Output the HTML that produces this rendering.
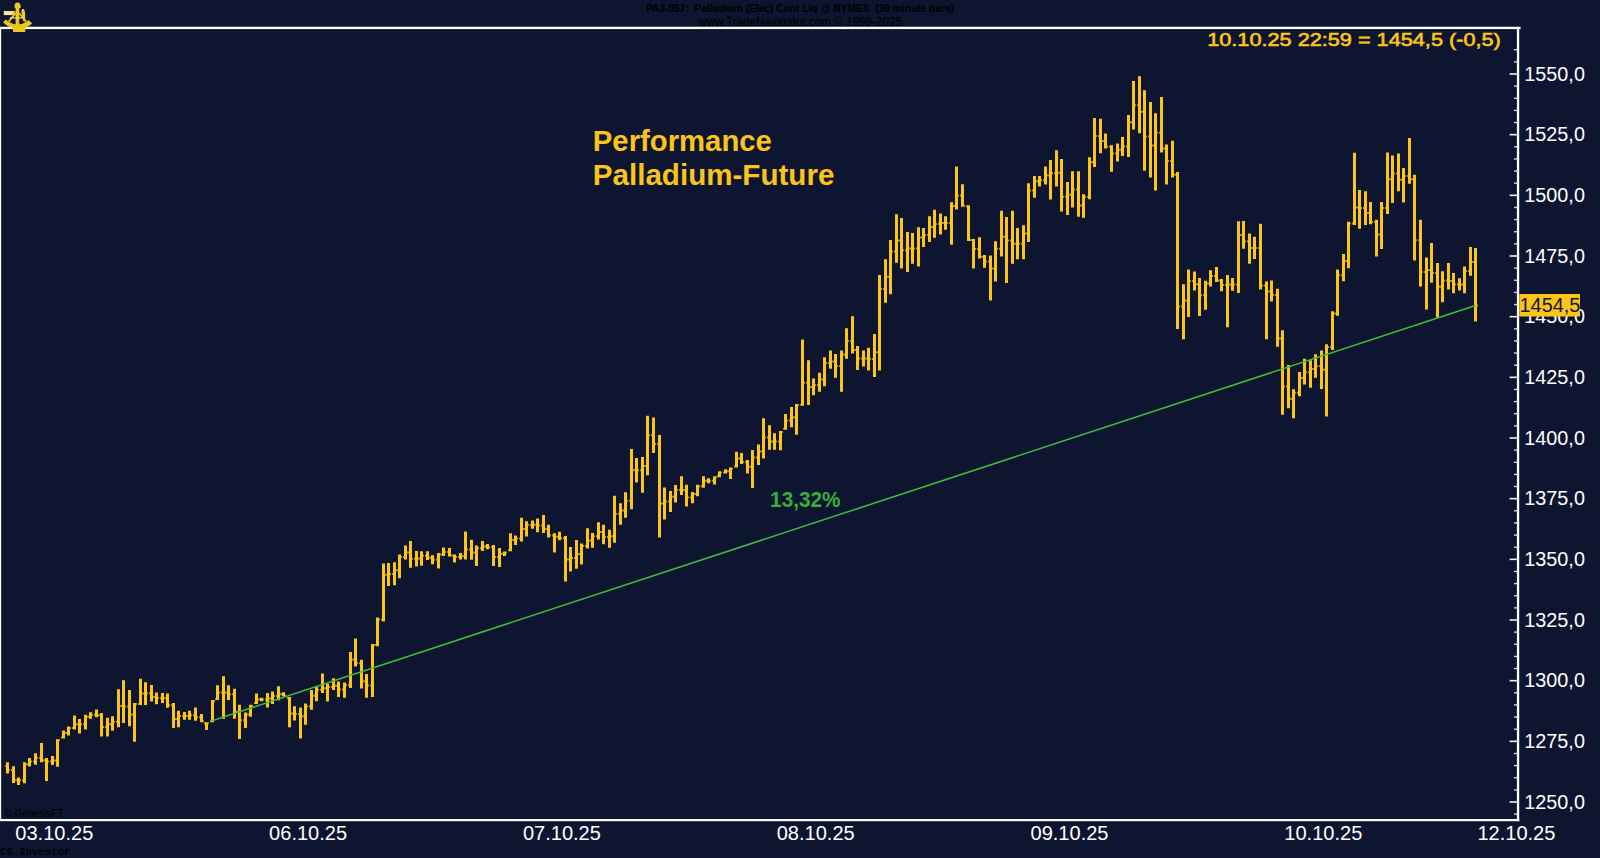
<!DOCTYPE html>
<html lang="de"><head><meta charset="utf-8"><title>Performance Palladium-Future</title>
<style>
html,body{margin:0;padding:0;background:#0d1530;overflow:hidden}
svg{display:block}
text{font-family:"Liberation Sans",Arial,sans-serif}
.ax text{font-size:20px;fill:#fff}
.mono{font-family:"Liberation Mono","Courier New",monospace}
</style></head><body>
<svg width="1600" height="858" viewBox="0 0 1600 858">
<rect width="1600" height="858" fill="#0d1530"/>
<!-- header -->
<g fill="#000">
<text x="800" y="12.3" font-size="10.5" font-weight="bold" text-anchor="middle" textLength="308" lengthAdjust="spacingAndGlyphs" xml:space="preserve">PA3-057:  Palladium (Elec) Cont Liq @ NYMEX  (30 minute bars)</text>
<text x="800" y="26" font-size="12" text-anchor="middle" textLength="204" lengthAdjust="spacingAndGlyphs">www.TradeNavigator.com © 1999-2025</text>
<text x="4.5" y="817" font-size="10">© GenesisFT</text>
<text class="mono" x="0" y="855" font-size="10.67" font-weight="bold" opacity="0.85">CS Investor</text>
</g>
<!-- frame -->
<g fill="#fff">
<rect x="0" y="26.75" width="1520.6" height="2.35"/>
<rect x="0" y="27" width="1.15" height="794"/>
<rect x="0" y="819" width="1519.2" height="2.2"/>
<rect x="1516.9" y="27" width="2.3" height="794.2"/>
</g>
<rect x="1514" y="813.44" width="3.5" height="1.4" fill="#d4d6da"/><rect x="1509.6" y="801.21" width="8" height="1.6" fill="#f0f0f2"/><rect x="1514" y="789.18" width="3.5" height="1.4" fill="#d4d6da"/><rect x="1514" y="777.04" width="3.5" height="1.4" fill="#d4d6da"/><rect x="1514" y="764.91" width="3.5" height="1.4" fill="#d4d6da"/><rect x="1514" y="752.78" width="3.5" height="1.4" fill="#d4d6da"/><rect x="1509.6" y="740.54" width="8" height="1.6" fill="#f0f0f2"/><rect x="1514" y="728.51" width="3.5" height="1.4" fill="#d4d6da"/><rect x="1514" y="716.38" width="3.5" height="1.4" fill="#d4d6da"/><rect x="1514" y="704.24" width="3.5" height="1.4" fill="#d4d6da"/><rect x="1514" y="692.11" width="3.5" height="1.4" fill="#d4d6da"/><rect x="1509.6" y="679.88" width="8" height="1.6" fill="#f0f0f2"/><rect x="1514" y="667.84" width="3.5" height="1.4" fill="#d4d6da"/><rect x="1514" y="655.71" width="3.5" height="1.4" fill="#d4d6da"/><rect x="1514" y="643.57" width="3.5" height="1.4" fill="#d4d6da"/><rect x="1514" y="631.44" width="3.5" height="1.4" fill="#d4d6da"/><rect x="1509.6" y="619.21" width="8" height="1.6" fill="#f0f0f2"/><rect x="1514" y="607.17" width="3.5" height="1.4" fill="#d4d6da"/><rect x="1514" y="595.04" width="3.5" height="1.4" fill="#d4d6da"/><rect x="1514" y="582.91" width="3.5" height="1.4" fill="#d4d6da"/><rect x="1514" y="570.77" width="3.5" height="1.4" fill="#d4d6da"/><rect x="1509.6" y="558.54" width="8" height="1.6" fill="#f0f0f2"/><rect x="1514" y="546.51" width="3.5" height="1.4" fill="#d4d6da"/><rect x="1514" y="534.37" width="3.5" height="1.4" fill="#d4d6da"/><rect x="1514" y="522.24" width="3.5" height="1.4" fill="#d4d6da"/><rect x="1514" y="510.11" width="3.5" height="1.4" fill="#d4d6da"/><rect x="1509.6" y="497.87" width="8" height="1.6" fill="#f0f0f2"/><rect x="1514" y="485.84" width="3.5" height="1.4" fill="#d4d6da"/><rect x="1514" y="473.71" width="3.5" height="1.4" fill="#d4d6da"/><rect x="1514" y="461.57" width="3.5" height="1.4" fill="#d4d6da"/><rect x="1514" y="449.44" width="3.5" height="1.4" fill="#d4d6da"/><rect x="1509.6" y="437.20" width="8" height="1.6" fill="#f0f0f2"/><rect x="1514" y="425.17" width="3.5" height="1.4" fill="#d4d6da"/><rect x="1514" y="413.04" width="3.5" height="1.4" fill="#d4d6da"/><rect x="1514" y="400.90" width="3.5" height="1.4" fill="#d4d6da"/><rect x="1514" y="388.77" width="3.5" height="1.4" fill="#d4d6da"/><rect x="1509.6" y="376.54" width="8" height="1.6" fill="#f0f0f2"/><rect x="1514" y="364.50" width="3.5" height="1.4" fill="#d4d6da"/><rect x="1514" y="352.37" width="3.5" height="1.4" fill="#d4d6da"/><rect x="1514" y="340.24" width="3.5" height="1.4" fill="#d4d6da"/><rect x="1514" y="328.10" width="3.5" height="1.4" fill="#d4d6da"/><rect x="1509.6" y="315.87" width="8" height="1.6" fill="#f0f0f2"/><rect x="1514" y="303.84" width="3.5" height="1.4" fill="#d4d6da"/><rect x="1514" y="291.70" width="3.5" height="1.4" fill="#d4d6da"/><rect x="1514" y="279.57" width="3.5" height="1.4" fill="#d4d6da"/><rect x="1514" y="267.44" width="3.5" height="1.4" fill="#d4d6da"/><rect x="1509.6" y="255.20" width="8" height="1.6" fill="#f0f0f2"/><rect x="1514" y="243.17" width="3.5" height="1.4" fill="#d4d6da"/><rect x="1514" y="231.04" width="3.5" height="1.4" fill="#d4d6da"/><rect x="1514" y="218.90" width="3.5" height="1.4" fill="#d4d6da"/><rect x="1514" y="206.77" width="3.5" height="1.4" fill="#d4d6da"/><rect x="1509.6" y="194.53" width="8" height="1.6" fill="#f0f0f2"/><rect x="1514" y="182.50" width="3.5" height="1.4" fill="#d4d6da"/><rect x="1514" y="170.37" width="3.5" height="1.4" fill="#d4d6da"/><rect x="1514" y="158.23" width="3.5" height="1.4" fill="#d4d6da"/><rect x="1514" y="146.10" width="3.5" height="1.4" fill="#d4d6da"/><rect x="1509.6" y="133.87" width="8" height="1.6" fill="#f0f0f2"/><rect x="1514" y="121.83" width="3.5" height="1.4" fill="#d4d6da"/><rect x="1514" y="109.70" width="3.5" height="1.4" fill="#d4d6da"/><rect x="1514" y="97.57" width="3.5" height="1.4" fill="#d4d6da"/><rect x="1514" y="85.43" width="3.5" height="1.4" fill="#d4d6da"/><rect x="1509.6" y="73.20" width="8" height="1.6" fill="#f0f0f2"/><rect x="1514" y="61.17" width="3.5" height="1.4" fill="#d4d6da"/><rect x="1514" y="49.03" width="3.5" height="1.4" fill="#d4d6da"/>
<g class="ax">
<text x="1524.3" y="808.7" textLength="60.6" lengthAdjust="spacingAndGlyphs">1250,0</text><text x="1524.3" y="748.0" textLength="60.6" lengthAdjust="spacingAndGlyphs">1275,0</text><text x="1524.3" y="687.4" textLength="60.6" lengthAdjust="spacingAndGlyphs">1300,0</text><text x="1524.3" y="626.7" textLength="60.6" lengthAdjust="spacingAndGlyphs">1325,0</text><text x="1524.3" y="566.0" textLength="60.6" lengthAdjust="spacingAndGlyphs">1350,0</text><text x="1524.3" y="505.4" textLength="60.6" lengthAdjust="spacingAndGlyphs">1375,0</text><text x="1524.3" y="444.7" textLength="60.6" lengthAdjust="spacingAndGlyphs">1400,0</text><text x="1524.3" y="384.0" textLength="60.6" lengthAdjust="spacingAndGlyphs">1425,0</text><text x="1524.3" y="323.4" textLength="60.6" lengthAdjust="spacingAndGlyphs">1450,0</text><text x="1524.3" y="262.7" textLength="60.6" lengthAdjust="spacingAndGlyphs">1475,0</text><text x="1524.3" y="202.0" textLength="60.6" lengthAdjust="spacingAndGlyphs">1500,0</text><text x="1524.3" y="141.4" textLength="60.6" lengthAdjust="spacingAndGlyphs">1525,0</text><text x="1524.3" y="80.7" textLength="60.6" lengthAdjust="spacingAndGlyphs">1550,0</text>
<text x="15.3" y="840" textLength="78" lengthAdjust="spacingAndGlyphs">03.10.25</text><text x="269.1" y="840" textLength="78" lengthAdjust="spacingAndGlyphs">06.10.25</text><text x="522.9" y="840" textLength="78" lengthAdjust="spacingAndGlyphs">07.10.25</text><text x="776.7" y="840" textLength="78" lengthAdjust="spacingAndGlyphs">08.10.25</text><text x="1030.5" y="840" textLength="78" lengthAdjust="spacingAndGlyphs">09.10.25</text><text x="1284.3" y="840" textLength="78" lengthAdjust="spacingAndGlyphs">10.10.25</text><text x="1477.4" y="840" textLength="78" lengthAdjust="spacingAndGlyphs">12.10.25</text>
</g>
<!-- trend line -->
<!-- bars -->
<path fill="#fdc616" d="M6 762.3h3V773.5h-3zM12 766.2h3V783.0h-3zM17 777.4h3V785.0h-3zM23 762.3h3V783.3h-3zM28 758.1h3V766.5h-3zM34 753.2h3V764.8h-3zM40 743.0h3V762.3h-3zM45 758.1h3V780.9h-3zM51 756.0h3V765.1h-3zM56 739.2h3V766.8h-3zM62 730.4h3V738.5h-3zM67 726.6h3V735.5h-3zM73 715.5h3V729.4h-3zM78 719.0h3V733.6h-3zM84 714.8h3V729.4h-3zM89 712.2h3V718.7h-3zM95 709.4h3V717.3h-3zM100 713.1h3V736.4h-3zM106 717.8h3V736.4h-3zM111 716.2h3V730.8h-3zM117 689.2h3V727.3h-3zM122 680.2h3V722.9h-3zM128 689.9h3V726.2h-3zM133 702.9h3V741.7h-3zM139 678.8h3V705.0h-3zM144 682.3h3V705.0h-3zM150 685.1h3V701.5h-3zM155 692.4h3V704.3h-3zM161 693.1h3V702.9h-3zM166 693.5h3V707.8h-3zM172 702.9h3V728.0h-3zM177 710.8h3V727.3h-3zM183 712.0h3V719.7h-3zM188 710.8h3V719.7h-3zM194 707.4h3V720.8h-3zM200 713.9h3V722.3h-3zM205 722.3h3V730.0h-3zM211 699.9h3V722.3h-3zM216 685.2h3V699.9h-3zM222 676.2h3V718.8h-3zM227 685.2h3V699.9h-3zM233 688.7h3V718.8h-3zM238 704.8h3V739.1h-3zM244 712.5h3V727.9h-3zM249 704.8h3V716.7h-3zM255 693.6h3V704.1h-3zM260 697.8h3V701.3h-3zM266 692.9h3V707.6h-3zM271 691.5h3V704.1h-3zM277 686.2h3V700.2h-3zM282 692.2h3V696.4h-3zM288 697.1h3V727.2h-3zM293 706.2h3V720.6h-3zM299 707.6h3V738.4h-3zM304 703.4h3V724.8h-3zM310 690.1h3V709.7h-3zM315 686.6h3V701.3h-3zM321 673.4h3V692.9h-3zM326 683.8h3V701.6h-3zM332 678.3h3V690.1h-3zM337 681.5h3V696.9h-3zM343 682.4h3V697.8h-3zM349 652.1h3V688.0h-3zM354 638.4h3V666.6h-3zM360 659.7h3V688.5h-3zM365 674.1h3V697.8h-3zM371 644.0h3V696.9h-3zM376 617.4h3V646.3h-3zM382 563.6h3V621.6h-3zM387 562.9h3V585.9h-3zM393 562.2h3V585.2h-3zM398 554.5h3V578.3h-3zM404 545.4h3V559.4h-3zM409 540.9h3V567.8h-3zM415 551.0h3V566.6h-3zM420 551.3h3V565.7h-3zM426 551.3h3V560.1h-3zM431 555.2h3V564.3h-3zM437 553.1h3V568.5h-3zM442 547.5h3V555.9h-3zM448 547.9h3V556.6h-3zM453 554.5h3V562.4h-3zM459 553.1h3V559.4h-3zM464 531.4h3V559.4h-3zM470 539.8h3V559.7h-3zM475 545.4h3V566.1h-3zM481 540.9h3V551.0h-3zM486 544.0h3V549.3h-3zM492 545.1h3V566.1h-3zM498 547.9h3V567.1h-3zM503 551.6h3V556.0h-3zM509 533.3h3V551.3h-3zM514 535.4h3V544.9h-3zM520 517.8h3V541.4h-3zM525 521.3h3V536.5h-3zM531 520.6h3V528.7h-3zM536 518.5h3V532.3h-3zM542 515.0h3V533.0h-3zM547 524.8h3V537.5h-3zM553 533.3h3V552.5h-3zM558 531.7h3V540.3h-3zM564 536.1h3V581.5h-3zM569 547.1h3V571.6h-3zM575 540.1h3V568.8h-3zM580 543.6h3V564.6h-3zM586 528.3h3V548.5h-3zM591 533.1h3V547.8h-3zM597 522.2h3V539.4h-3zM602 524.8h3V544.3h-3zM608 529.7h3V547.8h-3zM613 495.7h3V542.7h-3zM619 503.3h3V524.8h-3zM624 492.3h3V517.8h-3zM630 449.0h3V509.2h-3zM635 458.0h3V482.6h-3zM641 457.1h3V492.7h-3zM646 415.7h3V475.2h-3zM652 417.5h3V453.1h-3zM658 435.0h3V537.6h-3zM663 487.5h3V519.4h-3zM669 490.9h3V511.9h-3zM674 485.0h3V502.6h-3zM680 476.2h3V495.1h-3zM685 484.7h3V506.4h-3zM691 492.0h3V503.3h-3zM696 484.7h3V496.3h-3zM702 476.2h3V487.8h-3zM707 478.3h3V483.2h-3zM713 476.2h3V484.6h-3zM718 471.3h3V477.2h-3zM724 469.2h3V473.4h-3zM729 467.4h3V479.0h-3zM735 451.7h3V467.4h-3zM740 452.9h3V464.1h-3zM746 460.1h3V473.4h-3zM751 450.1h3V488.1h-3zM757 444.5h3V465.0h-3zM762 418.2h3V458.5h-3zM768 425.2h3V449.7h-3zM773 433.3h3V449.7h-3zM779 431.0h3V450.3h-3zM784 414.0h3V429.7h-3zM790 407.1h3V427.3h-3zM795 404.1h3V434.7h-3zM801 339.4h3V405.8h-3zM807 360.3h3V405.1h-3zM812 378.5h3V395.3h-3zM818 372.7h3V391.8h-3zM823 357.3h3V386.2h-3zM829 350.6h3V368.7h-3zM834 354.1h3V377.8h-3zM840 350.6h3V391.8h-3zM845 328.2h3V358.7h-3zM851 316.3h3V353.6h-3zM856 346.1h3V369.9h-3zM862 350.6h3V366.6h-3zM867 347.8h3V370.4h-3zM873 334.1h3V376.9h-3zM878 275.0h3V370.4h-3zM884 259.3h3V302.7h-3zM889 240.0h3V294.3h-3zM895 214.3h3V262.8h-3zM900 218.1h3V268.4h-3zM906 232.1h3V271.9h-3zM911 233.0h3V263.8h-3zM917 227.3h3V266.6h-3zM922 228.1h3V247.0h-3zM928 216.3h3V241.9h-3zM933 209.8h3V237.7h-3zM939 213.5h3V234.4h-3zM944 216.2h3V229.7h-3zM950 202.3h3V244.7h-3zM955 166.5h3V209.5h-3zM961 184.3h3V206.8h-3zM967 205.2h3V240.9h-3zM972 239.1h3V268.4h-3zM978 237.2h3V258.6h-3zM983 254.9h3V267.7h-3zM989 255.4h3V300.6h-3zM994 241.2h3V281.4h-3zM1000 210.8h3V256.5h-3zM1005 217.1h3V283.1h-3zM1011 210.8h3V263.8h-3zM1016 228.1h3V259.3h-3zM1022 225.2h3V259.3h-3zM1027 183.2h3V241.9h-3zM1033 176.0h3V197.7h-3zM1038 176.1h3V186.6h-3zM1044 166.6h3V184.5h-3zM1049 160.1h3V199.6h-3zM1055 150.3h3V186.6h-3zM1060 159.1h3V211.4h-3zM1066 182.0h3V215.0h-3zM1071 171.3h3V207.6h-3zM1077 171.3h3V216.7h-3zM1082 194.3h3V217.8h-3zM1088 157.3h3V199.2h-3zM1093 117.9h3V167.1h-3zM1099 118.8h3V153.3h-3zM1104 133.5h3V148.5h-3zM1110 145.2h3V171.7h-3zM1116 143.6h3V161.6h-3zM1121 137.1h3V155.9h-3zM1127 115.1h3V157.0h-3zM1132 81.1h3V129.6h-3zM1138 76.2h3V133.2h-3zM1143 90.2h3V170.7h-3zM1149 102.1h3V177.6h-3zM1154 113.3h3V190.4h-3zM1160 96.9h3V152.4h-3zM1165 144.4h3V184.5h-3zM1171 140.8h3V177.6h-3zM1176 172.0h3V329.0h-3zM1182 284.2h3V339.3h-3zM1187 269.5h3V317.0h-3zM1193 271.6h3V290.5h-3zM1198 277.9h3V316.1h-3zM1204 280.7h3V309.8h-3zM1209 270.2h3V286.6h-3zM1215 267.0h3V281.9h-3zM1220 279.1h3V291.2h-3zM1226 275.1h3V327.3h-3zM1231 277.9h3V290.8h-3zM1237 221.3h3V293.0h-3zM1242 220.9h3V248.8h-3zM1248 233.5h3V263.7h-3zM1253 236.7h3V259.1h-3zM1259 223.7h3V289.4h-3zM1265 281.4h3V339.3h-3zM1270 280.5h3V301.4h-3zM1276 288.8h3V346.7h-3zM1281 330.2h3V414.8h-3zM1287 365.1h3V408.2h-3zM1292 389.2h3V418.3h-3zM1298 371.9h3V396.2h-3zM1303 358.8h3V384.4h-3zM1309 360.2h3V387.8h-3zM1314 354.2h3V377.7h-3zM1320 350.5h3V388.9h-3zM1325 344.2h3V416.6h-3zM1331 311.2h3V350.0h-3zM1336 269.4h3V315.7h-3zM1342 254.1h3V281.2h-3zM1347 221.8h3V268.2h-3zM1353 152.7h3V224.9h-3zM1358 190.1h3V228.7h-3zM1364 191.3h3V224.9h-3zM1369 202.0h3V224.2h-3zM1375 219.8h3V256.4h-3zM1380 202.0h3V248.9h-3zM1386 152.4h3V214.0h-3zM1391 155.5h3V203.0h-3zM1397 153.5h3V191.3h-3zM1402 168.0h3V202.4h-3zM1408 138.1h3V183.8h-3zM1413 174.8h3V260.6h-3zM1419 219.8h3V286.6h-3zM1425 257.6h3V309.6h-3zM1430 242.9h3V282.7h-3zM1436 263.1h3V317.7h-3zM1441 271.3h3V302.3h-3zM1447 263.1h3V289.4h-3zM1452 272.9h3V293.2h-3zM1458 278.3h3V290.4h-3zM1463 266.6h3V293.2h-3zM1469 247.1h3V275.7h-3zM1474 248.0h3V321.6h-3z"/>
<path fill="#fdc616" opacity="0.7" d="M5 764.9h1v2h-1zM9 768.9h1v2h-1zM11 768.9h1v2h-1zM15 779.2h1v2h-1zM16 779.2h1v2h-1zM20 779.3h1v2h-1zM22 779.3h1v2h-1zM26 763.4h1v2h-1zM27 763.4h1v2h-1zM31 760.5h1v2h-1zM33 760.5h1v2h-1zM37 756.8h1v2h-1zM39 756.8h1v2h-1zM43 759.2h1v2h-1zM44 759.2h1v2h-1zM48 760.6h1v2h-1zM50 760.6h1v2h-1zM54 759.5h1v2h-1zM55 759.5h1v2h-1zM59 739.2h1v2h-1zM61 736.5h1v2h-1zM65 732.0h1v2h-1zM66 732.0h1v2h-1zM70 727.0h1v2h-1zM72 727.0h1v2h-1zM76 723.2h1v2h-1zM77 723.2h1v2h-1zM81 723.2h1v2h-1zM83 723.2h1v2h-1zM87 715.8h1v2h-1zM88 715.8h1v2h-1zM92 713.8h1v2h-1zM94 713.8h1v2h-1zM98 714.2h1v2h-1zM99 714.2h1v2h-1zM103 726.1h1v2h-1zM105 726.1h1v2h-1zM109 723.3h1v2h-1zM110 723.3h1v2h-1zM114 720.8h1v2h-1zM116 720.8h1v2h-1zM120 705.0h1v2h-1zM121 705.0h1v2h-1zM125 705.4h1v2h-1zM127 705.4h1v2h-1zM131 713.5h1v2h-1zM132 713.5h1v2h-1zM136 703.0h1v2h-1zM138 703.0h1v2h-1zM142 692.6h1v2h-1zM143 692.6h1v2h-1zM147 692.3h1v2h-1zM149 692.3h1v2h-1zM153 696.0h1v2h-1zM154 696.0h1v2h-1zM158 697.0h1v2h-1zM160 697.0h1v2h-1zM164 697.2h1v2h-1zM165 697.2h1v2h-1zM169 704.3h1v2h-1zM171 704.3h1v2h-1zM175 718.0h1v2h-1zM176 718.0h1v2h-1zM180 714.9h1v2h-1zM182 714.9h1v2h-1zM186 714.9h1v2h-1zM187 714.9h1v2h-1zM191 714.2h1v2h-1zM193 714.2h1v2h-1zM197 716.3h1v2h-1zM199 716.3h1v2h-1zM203 720.3h1v2h-1zM204 722.3h1v2h-1zM208 722.3h1v2h-1zM210 720.3h1v2h-1zM214 699.9h1v2h-1zM215 697.9h1v2h-1zM219 691.5h1v2h-1zM221 691.5h1v2h-1zM225 691.5h1v2h-1zM226 691.5h1v2h-1zM230 693.3h1v2h-1zM232 693.3h1v2h-1zM236 710.8h1v2h-1zM237 710.8h1v2h-1zM241 719.2h1v2h-1zM243 719.2h1v2h-1zM247 713.6h1v2h-1zM248 713.6h1v2h-1zM252 704.8h1v2h-1zM254 702.1h1v2h-1zM258 698.5h1v2h-1zM259 698.5h1v2h-1zM263 698.5h1v2h-1zM265 698.5h1v2h-1zM269 697.5h1v2h-1zM270 697.5h1v2h-1zM274 694.9h1v2h-1zM276 694.9h1v2h-1zM280 693.3h1v2h-1zM281 693.3h1v2h-1zM285 694.4h1v2h-1zM287 697.1h1v2h-1zM291 712.4h1v2h-1zM292 712.4h1v2h-1zM296 713.1h1v2h-1zM298 713.1h1v2h-1zM302 715.2h1v2h-1zM303 715.2h1v2h-1zM307 705.5h1v2h-1zM309 705.5h1v2h-1zM313 694.7h1v2h-1zM314 694.7h1v2h-1zM318 688.8h1v2h-1zM320 688.8h1v2h-1zM324 687.3h1v2h-1zM325 687.3h1v2h-1zM329 686.0h1v2h-1zM331 686.0h1v2h-1zM335 684.8h1v2h-1zM336 684.8h1v2h-1zM340 688.6h1v2h-1zM342 688.6h1v2h-1zM346 684.2h1v2h-1zM348 684.2h1v2h-1zM352 658.4h1v2h-1zM353 658.4h1v2h-1zM357 662.2h1v2h-1zM359 662.2h1v2h-1zM363 680.3h1v2h-1zM364 680.3h1v2h-1zM368 684.5h1v2h-1zM370 684.5h1v2h-1zM374 644.1h1v2h-1zM375 644.1h1v2h-1zM379 618.5h1v2h-1zM381 618.5h1v2h-1zM385 573.8h1v2h-1zM386 573.8h1v2h-1zM390 573.0h1v2h-1zM392 573.0h1v2h-1zM396 569.2h1v2h-1zM397 569.2h1v2h-1zM401 556.0h1v2h-1zM403 556.0h1v2h-1zM407 551.4h1v2h-1zM408 551.4h1v2h-1zM412 557.8h1v2h-1zM414 557.8h1v2h-1zM418 557.5h1v2h-1zM419 557.5h1v2h-1zM423 554.7h1v2h-1zM425 554.7h1v2h-1zM429 556.7h1v2h-1zM430 556.7h1v2h-1zM434 558.8h1v2h-1zM436 558.8h1v2h-1zM440 553.5h1v2h-1zM441 553.5h1v2h-1zM445 550.9h1v2h-1zM447 550.9h1v2h-1zM451 554.5h1v2h-1zM452 554.5h1v2h-1zM456 556.0h1v2h-1zM458 556.0h1v2h-1zM462 555.2h1v2h-1zM463 555.2h1v2h-1zM467 548.6h1v2h-1zM469 548.6h1v2h-1zM473 551.5h1v2h-1zM474 551.5h1v2h-1zM478 547.2h1v2h-1zM480 547.2h1v2h-1zM484 545.6h1v2h-1zM485 545.6h1v2h-1zM489 546.2h1v2h-1zM491 546.2h1v2h-1zM495 556.0h1v2h-1zM497 556.0h1v2h-1zM501 552.8h1v2h-1zM502 552.8h1v2h-1zM506 551.6h1v2h-1zM508 549.3h1v2h-1zM512 539.1h1v2h-1zM513 539.1h1v2h-1zM517 537.4h1v2h-1zM519 537.4h1v2h-1zM523 527.9h1v2h-1zM524 527.9h1v2h-1zM528 524.0h1v2h-1zM530 524.0h1v2h-1zM534 523.7h1v2h-1zM535 523.7h1v2h-1zM539 524.4h1v2h-1zM541 524.4h1v2h-1zM545 527.9h1v2h-1zM546 527.9h1v2h-1zM550 534.4h1v2h-1zM552 534.4h1v2h-1zM556 535.8h1v2h-1zM557 535.8h1v2h-1zM561 537.2h1v2h-1zM563 537.2h1v2h-1zM567 558.4h1v2h-1zM568 558.4h1v2h-1zM572 557.0h1v2h-1zM574 557.0h1v2h-1zM578 553.1h1v2h-1zM579 553.1h1v2h-1zM583 545.0h1v2h-1zM585 545.0h1v2h-1zM589 539.5h1v2h-1zM590 539.5h1v2h-1zM594 535.2h1v2h-1zM596 535.2h1v2h-1zM600 531.1h1v2h-1zM601 531.1h1v2h-1zM605 536.0h1v2h-1zM607 536.0h1v2h-1zM611 535.2h1v2h-1zM612 535.2h1v2h-1zM616 513.0h1v2h-1zM618 513.0h1v2h-1zM622 509.5h1v2h-1zM623 509.5h1v2h-1zM627 499.8h1v2h-1zM629 499.8h1v2h-1zM633 469.3h1v2h-1zM634 469.3h1v2h-1zM638 469.3h1v2h-1zM640 469.3h1v2h-1zM644 465.1h1v2h-1zM645 465.1h1v2h-1zM649 434.3h1v2h-1zM651 434.3h1v2h-1zM655 443.1h1v2h-1zM657 443.1h1v2h-1zM661 502.4h1v2h-1zM662 502.4h1v2h-1zM666 500.4h1v2h-1zM668 500.4h1v2h-1zM672 495.8h1v2h-1zM673 495.8h1v2h-1zM677 489.1h1v2h-1zM679 489.1h1v2h-1zM683 488.9h1v2h-1zM684 488.9h1v2h-1zM688 496.6h1v2h-1zM690 496.6h1v2h-1zM694 493.1h1v2h-1zM695 493.1h1v2h-1zM699 485.2h1v2h-1zM701 485.2h1v2h-1zM705 479.8h1v2h-1zM706 479.8h1v2h-1zM710 479.8h1v2h-1zM712 479.8h1v2h-1zM716 476.2h1v2h-1zM717 475.2h1v2h-1zM721 471.4h1v2h-1zM723 471.4h1v2h-1zM727 470.3h1v2h-1zM728 470.3h1v2h-1zM732 467.4h1v2h-1zM734 465.4h1v2h-1zM738 457.5h1v2h-1zM739 457.5h1v2h-1zM743 461.1h1v2h-1zM745 461.1h1v2h-1zM749 465.8h1v2h-1zM750 465.8h1v2h-1zM754 456.6h1v2h-1zM756 456.6h1v2h-1zM760 450.5h1v2h-1zM761 450.5h1v2h-1zM765 436.4h1v2h-1zM767 436.4h1v2h-1zM771 440.5h1v2h-1zM772 440.5h1v2h-1zM776 440.5h1v2h-1zM778 440.5h1v2h-1zM782 431.0h1v2h-1zM783 427.7h1v2h-1zM787 419.6h1v2h-1zM789 419.6h1v2h-1zM793 416.2h1v2h-1zM794 416.2h1v2h-1zM798 404.1h1v2h-1zM800 403.8h1v2h-1zM804 381.7h1v2h-1zM806 381.7h1v2h-1zM810 385.9h1v2h-1zM811 385.9h1v2h-1zM815 384.1h1v2h-1zM817 384.1h1v2h-1zM821 378.4h1v2h-1zM822 378.4h1v2h-1zM826 362.0h1v2h-1zM828 362.0h1v2h-1zM832 360.4h1v2h-1zM833 360.4h1v2h-1zM837 365.0h1v2h-1zM839 365.0h1v2h-1zM843 353.6h1v2h-1zM844 353.6h1v2h-1zM848 339.9h1v2h-1zM850 339.9h1v2h-1zM854 348.9h1v2h-1zM855 348.9h1v2h-1zM859 357.6h1v2h-1zM861 357.6h1v2h-1zM865 357.6h1v2h-1zM866 357.6h1v2h-1zM870 358.1h1v2h-1zM872 358.1h1v2h-1zM876 351.2h1v2h-1zM877 351.2h1v2h-1zM881 287.9h1v2h-1zM883 287.9h1v2h-1zM887 275.8h1v2h-1zM888 275.8h1v2h-1zM892 250.4h1v2h-1zM894 250.4h1v2h-1zM898 239.4h1v2h-1zM899 239.4h1v2h-1zM903 249.2h1v2h-1zM905 249.2h1v2h-1zM909 247.4h1v2h-1zM910 247.4h1v2h-1zM914 247.4h1v2h-1zM916 247.4h1v2h-1zM920 236.6h1v2h-1zM921 236.6h1v2h-1zM925 234.0h1v2h-1zM927 234.0h1v2h-1zM931 226.0h1v2h-1zM932 226.0h1v2h-1zM936 222.9h1v2h-1zM938 222.9h1v2h-1zM942 221.9h1v2h-1zM943 221.9h1v2h-1zM947 221.9h1v2h-1zM949 221.9h1v2h-1zM953 204.9h1v2h-1zM954 204.9h1v2h-1zM958 194.6h1v2h-1zM960 194.6h1v2h-1zM964 204.8h1v2h-1zM966 205.2h1v2h-1zM970 238.9h1v2h-1zM971 239.1h1v2h-1zM975 247.9h1v2h-1zM977 247.9h1v2h-1zM981 255.8h1v2h-1zM982 255.8h1v2h-1zM986 260.5h1v2h-1zM988 260.5h1v2h-1zM992 267.4h1v2h-1zM993 267.4h1v2h-1zM997 247.8h1v2h-1zM999 247.8h1v2h-1zM1003 235.8h1v2h-1zM1004 235.8h1v2h-1zM1008 239.4h1v2h-1zM1010 239.4h1v2h-1zM1014 242.7h1v2h-1zM1015 242.7h1v2h-1zM1019 242.7h1v2h-1zM1021 242.7h1v2h-1zM1025 232.6h1v2h-1zM1026 232.6h1v2h-1zM1030 189.4h1v2h-1zM1032 189.4h1v2h-1zM1036 180.3h1v2h-1zM1037 180.3h1v2h-1zM1041 179.3h1v2h-1zM1043 179.3h1v2h-1zM1047 174.6h1v2h-1zM1048 174.6h1v2h-1zM1052 172.3h1v2h-1zM1054 172.3h1v2h-1zM1058 171.8h1v2h-1zM1059 171.8h1v2h-1zM1063 195.7h1v2h-1zM1065 195.7h1v2h-1zM1069 193.8h1v2h-1zM1070 193.8h1v2h-1zM1074 188.4h1v2h-1zM1076 188.4h1v2h-1zM1080 204.5h1v2h-1zM1081 204.5h1v2h-1zM1085 195.8h1v2h-1zM1087 195.8h1v2h-1zM1091 161.2h1v2h-1zM1092 161.2h1v2h-1zM1096 135.1h1v2h-1zM1098 135.1h1v2h-1zM1102 140.0h1v2h-1zM1103 140.0h1v2h-1zM1107 145.8h1v2h-1zM1109 145.8h1v2h-1zM1113 152.4h1v2h-1zM1115 152.4h1v2h-1zM1119 148.8h1v2h-1zM1120 148.8h1v2h-1zM1124 145.5h1v2h-1zM1126 145.5h1v2h-1zM1130 121.3h1v2h-1zM1131 121.3h1v2h-1zM1135 104.3h1v2h-1zM1137 104.3h1v2h-1zM1141 110.7h1v2h-1zM1142 110.7h1v2h-1zM1146 135.4h1v2h-1zM1148 135.4h1v2h-1zM1152 144.4h1v2h-1zM1153 144.4h1v2h-1zM1157 131.8h1v2h-1zM1159 131.8h1v2h-1zM1163 147.4h1v2h-1zM1164 147.4h1v2h-1zM1168 160.0h1v2h-1zM1170 160.0h1v2h-1zM1174 173.8h1v2h-1zM1175 173.8h1v2h-1zM1179 305.6h1v2h-1zM1181 305.6h1v2h-1zM1185 299.6h1v2h-1zM1186 299.6h1v2h-1zM1190 280.1h1v2h-1zM1192 280.1h1v2h-1zM1196 283.2h1v2h-1zM1197 283.2h1v2h-1zM1201 294.2h1v2h-1zM1203 294.2h1v2h-1zM1207 282.6h1v2h-1zM1208 282.6h1v2h-1zM1212 275.0h1v2h-1zM1214 275.0h1v2h-1zM1218 279.5h1v2h-1zM1219 279.5h1v2h-1zM1223 284.1h1v2h-1zM1225 284.1h1v2h-1zM1229 283.4h1v2h-1zM1230 283.4h1v2h-1zM1234 283.4h1v2h-1zM1236 283.4h1v2h-1zM1240 234.1h1v2h-1zM1241 234.1h1v2h-1zM1245 240.2h1v2h-1zM1247 240.2h1v2h-1zM1251 246.9h1v2h-1zM1252 246.9h1v2h-1zM1256 246.9h1v2h-1zM1258 246.9h1v2h-1zM1262 284.4h1v2h-1zM1264 284.4h1v2h-1zM1268 290.4h1v2h-1zM1269 290.4h1v2h-1zM1273 294.1h1v2h-1zM1275 294.1h1v2h-1zM1279 337.4h1v2h-1zM1280 337.4h1v2h-1zM1284 385.6h1v2h-1zM1286 385.6h1v2h-1zM1290 397.7h1v2h-1zM1291 397.7h1v2h-1zM1295 391.7h1v2h-1zM1297 391.7h1v2h-1zM1301 377.1h1v2h-1zM1302 377.1h1v2h-1zM1306 371.3h1v2h-1zM1308 371.3h1v2h-1zM1312 367.9h1v2h-1zM1313 367.9h1v2h-1zM1317 364.9h1v2h-1zM1319 364.9h1v2h-1zM1323 368.7h1v2h-1zM1324 368.7h1v2h-1zM1328 346.1h1v2h-1zM1330 346.1h1v2h-1zM1334 312.4h1v2h-1zM1335 312.4h1v2h-1zM1339 274.3h1v2h-1zM1341 274.3h1v2h-1zM1345 260.1h1v2h-1zM1346 260.1h1v2h-1zM1350 222.4h1v2h-1zM1352 222.4h1v2h-1zM1356 206.5h1v2h-1zM1357 206.5h1v2h-1zM1361 207.1h1v2h-1zM1363 207.1h1v2h-1zM1367 212.1h1v2h-1zM1368 212.1h1v2h-1zM1372 221.0h1v2h-1zM1374 221.0h1v2h-1zM1378 233.4h1v2h-1zM1379 233.4h1v2h-1zM1383 207.0h1v2h-1zM1385 207.0h1v2h-1zM1389 178.2h1v2h-1zM1390 178.2h1v2h-1zM1394 172.4h1v2h-1zM1396 172.4h1v2h-1zM1400 178.7h1v2h-1zM1401 178.7h1v2h-1zM1405 174.9h1v2h-1zM1407 174.9h1v2h-1zM1411 178.3h1v2h-1zM1412 178.3h1v2h-1zM1416 239.2h1v2h-1zM1418 239.2h1v2h-1zM1422 271.1h1v2h-1zM1424 271.1h1v2h-1zM1428 269.1h1v2h-1zM1429 269.1h1v2h-1zM1433 271.9h1v2h-1zM1435 271.9h1v2h-1zM1439 285.8h1v2h-1zM1440 285.8h1v2h-1zM1444 279.4h1v2h-1zM1446 279.4h1v2h-1zM1450 280.1h1v2h-1zM1451 280.1h1v2h-1zM1455 283.4h1v2h-1zM1457 283.4h1v2h-1zM1461 283.4h1v2h-1zM1462 283.4h1v2h-1zM1466 270.1h1v2h-1zM1468 270.1h1v2h-1zM1472 260.9h1v2h-1zM1473 260.9h1v2h-1zM1477 304.5h1v2h-1z"/>
<line x1="211.7" y1="720.9" x2="1475.5" y2="305.5" stroke="#40bd3b" stroke-width="1.5"/>
<!-- annotations -->
<g fill="#fdc418" font-weight="bold">
<text x="592.8" y="150.7" font-size="28.6" textLength="179.1" lengthAdjust="spacingAndGlyphs">Performance</text>
<text x="592.8" y="185.4" font-size="28.6" textLength="241.6" lengthAdjust="spacingAndGlyphs">Palladium-Future</text>
<text x="1207.2" y="46" font-size="19.2" font-weight="normal" stroke="#fdc418" stroke-width="0.65" textLength="293.6" lengthAdjust="spacingAndGlyphs">10.10.25 22:59 = 1454,5 (-0,5)</text>
</g>
<text x="770.1" y="507.2" font-size="21.5" font-weight="bold" fill="#3aae3a" textLength="70.4" lengthAdjust="spacingAndGlyphs">13,32%</text>
<!-- price marker -->
<rect x="1519.3" y="294" width="60.7" height="22.5" fill="#fdc418"/>
<text x="1519.6" y="312" font-size="20" fill="#0d1530" textLength="60.6" lengthAdjust="spacingAndGlyphs">1454,5</text>
<!-- sextant logo -->
<g id="logo">
<g fill="#ecc81e" stroke="none">
<circle cx="17.5" cy="5.3" r="2.9"/>
<rect x="14.6" y="6" width="6.2" height="2.2" rx="1"/>
<rect x="15.6" y="6" width="3.7" height="22"/>
<path d="M3 22.6 L5.6 19.6 Q17.5 29.5 28.6 20 L32.2 23.4 Q17.5 35.5 3 22.6z"/>
<rect x="13" y="24.6" width="12.2" height="7.4"/>
<path d="M21.4 12.3 Q21.4 9.3 23 9.3 Q24.7 9.3 25 12.3 L25.4 21.3 L23.2 21.3z"/>
</g>
<path d="M15.8 13 L8.6 21.6 M19.2 13 L26 21.6" stroke="#ecc81e" stroke-width="1.7" fill="none"/>
<rect x="10" y="17.3" width="13.5" height="1.2" fill="#f3dc7a"/>
<rect x="3.8" y="11" width="9.8" height="4.1" fill="#fbe29a"/>
<rect x="12.6" y="11" width="2.6" height="4.1" fill="#ecc81e"/>
<circle cx="22.8" cy="10" r="0.9" fill="#fff6d8"/>
</g>
</svg>
</body></html>
